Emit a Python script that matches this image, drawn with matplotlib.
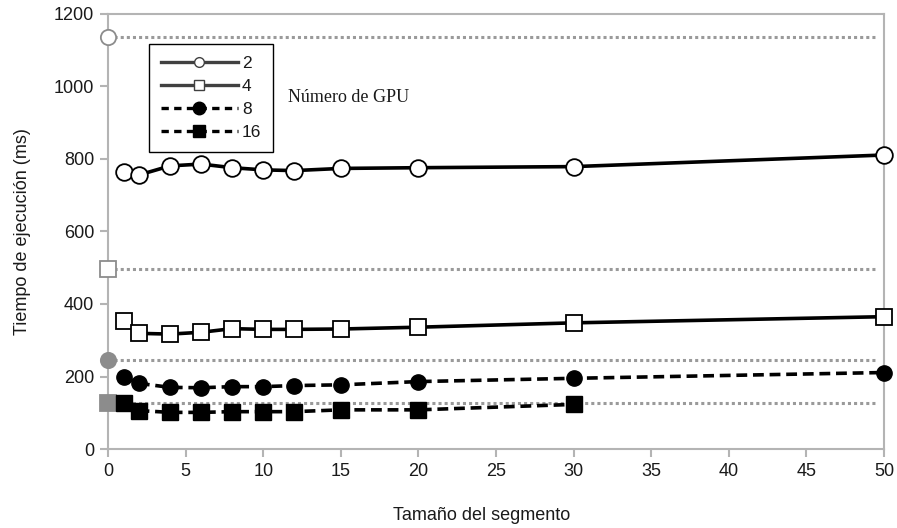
import matplotlib
matplotlib.use("Agg")
import matplotlib.pyplot as plt
from matplotlib.lines import Line2D

plt.rcParams['font.family'] = ['Liberation Sans', 'DejaVu Sans']

# Segment sizes and execution times (ms) per number of GPUs
seg = [1, 2, 4, 6, 8, 10, 12, 15, 20, 30, 50]
t_gpu2 = [765, 756, 781, 786, 776, 770, 768, 774, 776, 779, 811]
t_gpu4 = [354, 319, 317, 322, 332, 330, 330, 331, 336, 348, 365]
t_gpu8 = [199, 181, 170, 169, 172, 172, 175, 177, 186, 195, 211]
seg16 = [1, 2, 4, 6, 8, 10, 12, 15, 20, 30]
t_gpu16 = [126, 106, 101, 101, 103, 103, 103, 108, 108, 123]

# Reference times (segment size 0) drawn as dotted horizontal lines
ref_labels = ["2", "4", "8", "16"]
ref_times = [1137, 497, 245, 127]

x_ticks = [0, 5, 10, 15, 20, 25, 30, 35, 40, 45, 50]
y_ticks = [0, 200, 400, 600, 800, 1000, 1200]

fig = plt.figure(figsize=(8.97, 5.28), dpi=100)
ax = fig.add_axes([108 / 897, 1 - 449 / 528, (884 - 108) / 897, (449 - 14) / 528])

gray = "#8c8c8c"
dot_gray = "#9a9a9a"
ref_styles = [
    dict(marker="o", mfc="white", mec=gray, ms=11),
    dict(marker="s", mfc="white", mec=gray, ms=11),
    dict(marker="o", mfc=gray, mec=gray, ms=11),
    dict(marker="s", mfc=gray, mec=gray, ms=11),
]
for t, st in zip(ref_times, ref_styles):
    ax.plot([0, 49.6], [t, t], color=dot_gray, lw=2.2, linestyle=(0, (1, 1)),
            solid_capstyle="butt", dash_capstyle="butt", zorder=2)
    ax.plot([0], [t], linestyle="none", mew=1.3, clip_on=False, zorder=3, **st)

dash = (0, (3.0, 1.6))
ax.plot(seg, t_gpu2, color="black", lw=2.6, marker="o", ms=12, mfc="white",
        mec="black", mew=1.3, clip_on=False, zorder=4)
ax.plot(seg, t_gpu4, color="black", lw=2.6, marker="s", ms=11, mfc="white",
        mec="black", mew=1.3, clip_on=False, zorder=4)
ax.plot(seg, t_gpu8, color="black", lw=2.6, linestyle=dash, marker="o", ms=11,
        mfc="black", mec="black", clip_on=False, zorder=4)
ax.plot(seg16, t_gpu16, color="black", lw=2.6, linestyle=dash, marker="s", ms=11,
        mfc="black", mec="black", clip_on=False, zorder=4)

ax.set_xlim(0, 50)
ax.set_ylim(0, 1200)
ax.set_xticks(x_ticks)
ax.set_yticks(y_ticks)
ax.tick_params(axis="both", direction="out", length=6, width=1.5, color="#b4b4b4",
               labelsize=13, labelcolor="#1a1a1a", pad=4)
for s in ax.spines.values():
    s.set_color("#b4b4b4")
    s.set_linewidth(1.5)

ax.set_xlabel("Tamaño del segmento", fontsize=13, color="#1a1a1a", va="center")
ax.xaxis.set_label_coords((482 - 108) / 776, (449 - 515) / 435)
ax.set_ylabel("Tiempo de ejecución (ms)", fontsize=13, color="#1a1a1a", va="center")
ax.yaxis.set_label_coords((23 - 108) / 776, 0.5)

handles = [
    Line2D([], [], color="#404040", lw=2.4, marker="o", ms=7, mfc="white", mec="#404040", mew=1),
    Line2D([], [], color="#404040", lw=2.4, marker="s", ms=7, mfc="white", mec="#404040", mew=1),
    Line2D([], [], color="black", lw=2.4, linestyle=(0, (2.2, 1.6)), marker="o", ms=9, mfc="black", mec="black"),
    Line2D([], [], color="black", lw=2.4, linestyle=(0, (2.2, 1.6)), marker="s", ms=9, mfc="black", mec="black"),
]
leg = fig.legend(handles, ref_labels, loc="upper left",
                 bbox_to_anchor=(149 / 897, 1 - 44 / 528), bbox_transform=fig.transFigure,
                 fontsize=12.5, handlelength=4.4, handletextpad=0.25, labelspacing=0.45,
                 borderpad=0.7, borderaxespad=0, fancybox=False, framealpha=1,
                 edgecolor="black")
leg.get_frame().set_linewidth(1.0)
for txt in leg.get_texts():
    txt.set_color("#1a1a1a")

fig.text(288 / 897, 1 - 98 / 528, "Número de GPU", family=["Liberation Serif", "DejaVu Serif"],
         fontsize=13, color="#1a1a1a", va="center", ha="left")

fig.savefig("out.png", dpi=100)
